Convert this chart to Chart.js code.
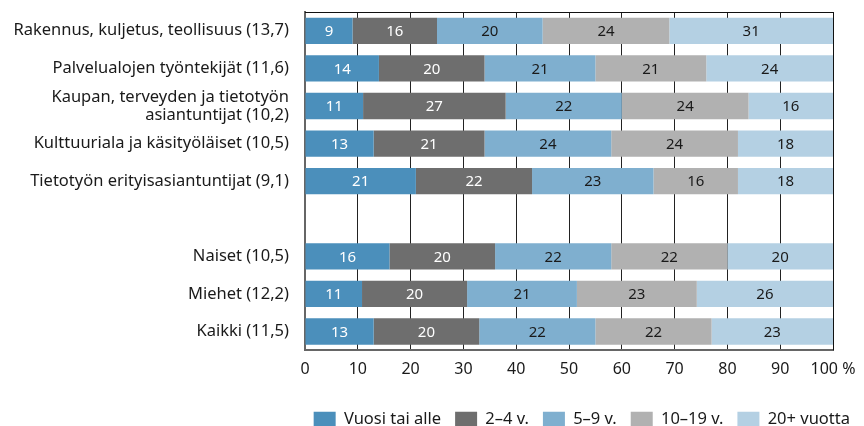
<!DOCTYPE html>
<html>
<head>
<meta charset="utf-8">
<script src="https://cdn.jsdelivr.net/npm/chart.js@4.4.1/dist/chart.umd.min.js"></script>
<style>
  html, body { margin: 0; padding: 0; background: #fff; }
  #wrap { width: 864px; height: 426px; position: relative; }
</style>
</head>
<body>
<div id="wrap"><canvas id="chart"></canvas></div>
<script>
// categories (empty string = spacer row between groups)
const categories = [
    "Rakennus, kuljetus, teollisuus (13,7)",
    "Palvelualojen työntekijät (11,6)",
    ["Kaupan, terveyden ja tietotyön", "asiantuntijat (10,2)"],
    "Kulttuuriala ja käsityöläiset (10,5)",
    "Tietotyön erityisasiantuntijat (9,1)",
    "",
    "Naiset (10,5)",
    "Miehet (12,2)",
    "Kaikki (11,5)"
];

const seriesNames = ["Vuosi tai alle", "2–4 v.", "5–9 v.", "10–19 v.", "20+ vuotta"];

// shares per category, % (null for spacer row)
const vuosiTaiAlle = [9, 14, 11, 13, 21, null, 16, 10.8, 13];
const v2to4       = [16, 20, 27, 21, 22, null, 20, 19.9, 20];
const v5to9       = [20, 21, 22, 24, 23, null, 22, 20.8, 22];
const v10to19     = [24, 21, 24, 24, 16, null, 22, 22.7, 22];
const v20plus     = [31, 24, 16, 18, 18, null, 20, 25.8, 23];

const xTicks = [0, 10, 20, 30, 40, 50, 60, 70, 80, 90, 100];

const colors = ["#4b8fbb", "#6e6e6e", "#7fafcf", "#b1b1b1", "#b4d0e3"];
const labelColors = ["#ffffff", "#ffffff", "#1a1a1a", "#1a1a1a", "#1a1a1a"];

const FONT = "'Noto Sans', sans-serif";

const allSeries = [vuosiTaiAlle, v2to4, v5to9, v10to19, v20plus];

// labels inside the bar segments
const segmentLabels = {
    id: "segmentLabels",
    afterDatasetsDraw(chart) {
        const ctx = chart.ctx;
        ctx.save();
        ctx.font = "15px " + FONT;
        ctx.textAlign = "center";
        ctx.textBaseline = "middle";
        chart.data.datasets.forEach((ds, i) => {
            const meta = chart.getDatasetMeta(i);
            meta.data.forEach((bar, j) => {
                const v = ds.data[j];
                if (v == null) return;
                const p = bar.getProps(["x", "y", "base"], true);
                ctx.fillStyle = labelColors[i];
                ctx.fillText(String(Math.round(v)), (p.x + p.base) / 2, p.y + 1);
            });
        });
        ctx.restore();
    }
};

// thin black frame on top and right side of the plot
const frame = {
    id: "frame",
    afterDraw(chart) {
        const a = chart.chartArea;
        const ctx = chart.ctx;
        ctx.save();
        ctx.strokeStyle = "#111";
        ctx.lineWidth = 1;
        ctx.beginPath();
        ctx.moveTo(a.left, a.top + 0.5);
        ctx.lineTo(a.right + 0.5, a.top + 0.5);
        ctx.lineTo(a.right + 0.5, a.bottom);
        ctx.stroke();
        ctx.restore();
    }
};

// legend sits closer to the bottom edge
const legendLower = {
    id: "legendLower",
    beforeInit(chart) {
        const fit = chart.legend.fit;
        chart.legend.fit = function () {
            fit.call(this);
            this.height -= 12;
        };
    }
};

new Chart(document.getElementById("chart"), {
    type: "bar",
    data: {
        labels: categories,
        datasets: allSeries.map((data, i) => ({
            label: seriesNames[i],
            data,
            backgroundColor: colors[i],
            borderWidth: 0,
            categoryPercentage: 1,
            barPercentage: 0.7
        }))
    },
    options: {
        indexAxis: "y",
        responsive: true,
        maintainAspectRatio: false,
        animation: false,
        layout: { padding: { top: 12, right: 0, left: 0, bottom: 0 } },
        plugins: {
            legend: {
                position: "bottom",
                align: "end",
                labels: {
                    boxWidth: 22,
                    boxHeight: 16,
                    padding: 14,
                    color: "#1a1a1a",
                    font: { family: FONT, size: 16.5 }
                }
            },
            tooltip: { enabled: false }
        },
        scales: {
            x: {
                stacked: true,
                min: 0,
                max: 100,
                afterBuildTicks: s => { s.ticks = xTicks.map(v => ({ value: v })); },
                afterFit: s => { s.height += 8; s.paddingRight = 31; },
                ticks: {
                    color: "#1a1a1a",
                    padding: 10,
                    font: { family: FONT, size: 16 },
                    callback: v => (v === 100 ? "100 %" : v)
                },
                grid: { color: "#222", lineWidth: 1, drawTicks: false },
                border: { color: "#666", width: 2 }
            },
            y: {
                stacked: true,
                afterFit: s => { s.width = 305; s.paddingTop = 0; s.paddingBottom = 0; },
                ticks: {
                    autoSkip: false,
                    color: "#1a1a1a",
                    padding: 8,
                    font: { family: FONT, size: 16.5, lineHeight: 1.1 }
                },
                grid: { display: false },
                border: { color: "#666", width: 2 }
            }
        }
    },
    plugins: [segmentLabels, frame, legendLower]
});
</script>
</body>
</html>
